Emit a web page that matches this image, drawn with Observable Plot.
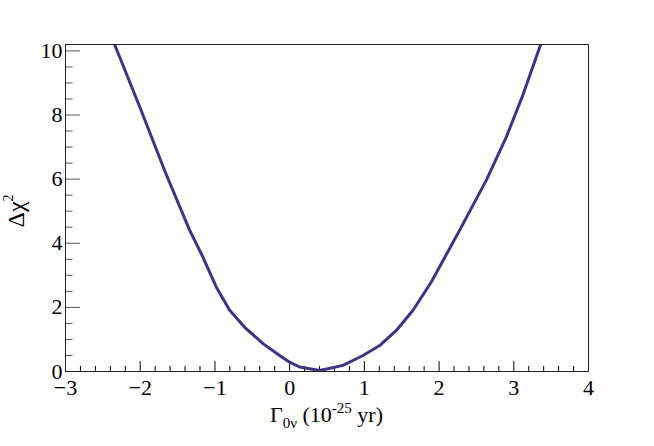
<!DOCTYPE html>
<html><head><meta charset="utf-8">
<script src="https://cdn.jsdelivr.net/npm/d3@7"></script>
<script src="https://cdn.jsdelivr.net/npm/@observablehq/plot@0.6"></script>
<style>body{margin:0;background:#fff} svg text{font-family:"Liberation Serif","Times New Roman",serif !important;}</style>
</head><body><div id="chart"></div>
<script>
// Γ0ν values (10^-25 yr) and Δχ²
const gamma = [-2.343, -1.995, -1.667, -1.339, -1.161, -0.981, -0.803, -0.602, -0.357, -0.134, 0.0, 0.134, 0.402, 0.714, 0.981, 1.205, 1.428, 1.651, 1.896, 2.276, 2.633, 2.901, 3.123, 3.360];
const deltaChi2 = [10.2, 8.19, 6.23, 4.41, 3.57, 2.63, 1.91, 1.38, 0.87, 0.50, 0.29, 0.14, 0.03, 0.19, 0.50, 0.81, 1.28, 1.91, 2.79, 4.41, 5.97, 7.32, 8.63, 10.2];
const xTickLabels = [-3, -2, -1, 0, 1, 2, 3, 4];
const yTickLabels = [0, 2, 4, 6, 8, 10];
const xMinorTicks = [-2.8,-2.6,-2.4,-2.2,-1.8,-1.6,-1.4,-1.2,-0.8,-0.6,-0.4,-0.2,0.2,0.4,0.6,0.8,1.2,1.4,1.6,1.8,2.2,2.4,2.6,2.8,3.2,3.4,3.6,3.8];
const yMinorTicks = [0.5,1,1.5,2.5,3,3.5,4.5,5,5.5,6.5,7,7.5,8.5,9,9.5];

const data = gamma.map((g, i) => ({g, c: deltaChi2[i]}));

const W = 654, H = 446, ML = 65, MR = 66, MT = 44, MB = 75;
const fw = W - ML - MR, fh = H - MT - MB;
const fmt = d => d < 0 ? "\u2212" + Math.abs(d) : String(d);
const serif = "'Liberation Serif', 'Times New Roman', serif";

const plot = Plot.plot({
  width: W, height: H,
  marginLeft: ML, marginRight: MR, marginTop: MT, marginBottom: MB,
  style: {fontFamily: serif, fontSize: "22px", color: "#000", background: "#fff"},
  x: {domain: [-3, 4]},
  y: {domain: [0, 10.2]},
  marks: [
    Plot.ruleX(xMinorTicks, {x: d => d, insetTop: fh - 5, stroke: "#000", strokeWidth: 1}),
    Plot.ruleX(xTickLabels, {x: d => d, insetTop: fh - 10, stroke: "#000", strokeWidth: 1}),
    Plot.ruleY(yMinorTicks, {y: d => d, insetRight: fw - 7.5, stroke: "#555", strokeWidth: 1}),
    Plot.ruleY(yTickLabels, {y: d => d, insetRight: fw - 15, stroke: "#555", strokeWidth: 1}),
    Plot.line(data, {x: "g", y: "c", stroke: "#3d3584", strokeWidth: 3, strokeLinejoin: "round", clip: true}),
    Plot.frame({stroke: "#222", strokeWidth: 1}),
    Plot.axisX(xTickLabels, {tickSize: 0, tickPadding: 8, tickFormat: fmt, label: null, fontSize: 22, fontFamily: serif}),
    Plot.axisY(yTickLabels, {tickSize: 0, tickPadding: 3, tickFormat: fmt, label: null, fontSize: 22, fontFamily: serif})
  ]
});

const svg = d3.select(plot);
svg.selectAll("text").attr("font-family", serif);
// x-axis title: Γ_0ν (10^-25 yr)
const xt = svg.append("text")
  .attr("x", ML + fw / 2).attr("y", 421.5)
  .attr("text-anchor", "middle")
  .attr("font-family", serif)
  .attr("font-size", 22).attr("fill", "#000");
xt.append("tspan").text("Γ");
xt.append("tspan").attr("font-size", 15).attr("dy", 6).text("0ν");
xt.append("tspan").attr("dy", -6).text(" (10");
xt.append("tspan").attr("font-size", 15).attr("dy", -9).text("-25");
xt.append("tspan").attr("dy", 9).text(" yr)");

// y-axis title: Δχ²
const yt = svg.append("text")
  .attr("transform", "translate(24,211) rotate(-90)")
  .attr("text-anchor", "middle")
  .attr("font-family", serif)
  .attr("font-size", 24).attr("fill", "#000");
yt.append("tspan").text("Δχ");
yt.append("tspan").attr("font-size", 14).attr("dy", -11).text("2");

document.getElementById("chart").appendChild(plot);
</script>
</body></html>
